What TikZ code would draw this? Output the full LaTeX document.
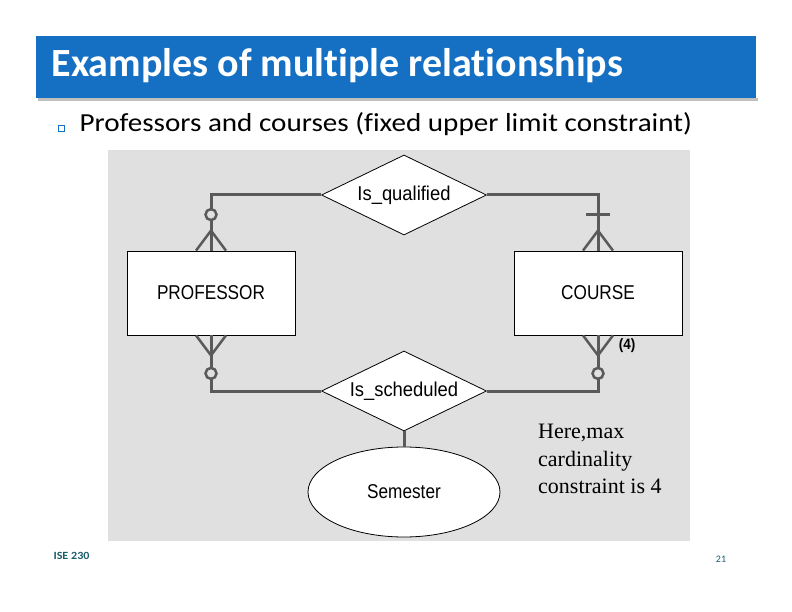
\documentclass[tikz,border=0pt]{standalone}
\usepackage{fontspec}
\setmainfont{Carlito}[Ligatures=NoCommon]
\newfontfamily\diagfont{Liberation Sans}
\newfontfamily\notefont{Liberation Serif}
\usetikzlibrary{shapes.geometric,calc}
\definecolor{barblue}{HTML}{1570C4}
\definecolor{diaggray}{HTML}{E0E0E0}
\definecolor{linkgray}{HTML}{5A5A5A}
\definecolor{footteal}{HTML}{1B5E6B}
\newcommand{\narrowtext}[2][0.86]{\scalebox{#1}[1]{#2}}
\begin{document}
\begin{tikzpicture}[x=1pt, y=-1pt,
    entity/.style={draw, thick, fill=white, minimum width=168pt, minimum height=84pt,
                   font=\diagfont\fontsize{20}{22}\selectfont},
    relation/.style={draw, thick, fill=white, diamond, aspect=2.06, inner sep=0pt,
                     minimum width=165pt, minimum height=80pt,
                     font=\diagfont\fontsize{20}{22}\selectfont},
    attrib/.style={draw, thick, fill=white, ellipse, minimum width=192pt, minimum height=90pt,
                   font=\diagfont\fontsize{20}{22}\selectfont},
    link/.style={draw=linkgray, line width=3pt},
    cardmark/.style={draw=linkgray, line width=2.5pt}]
    \useasboundingbox (0,0) rectangle (792,612);

    % title bar
    \fill[black!25] (38,98) rectangle (758,101);
    \fill[barblue] (36,36) rectangle (756,98);
    \node[anchor=west, text=white, font=\bfseries\fontsize{40}{46}\selectfont] (title) at (48,66)
        {Examples of multiple relationships};
    \draw[barblue, thin] (58,125) rectangle (64,131);
    \node[anchor=west, font=\fontsize{26}{30}\selectfont] (bullet) at (76,124)
        {\narrowtext[1.12]{Professors and courses (fixed upper limit constraint)}};

    % diagram
    \fill[diaggray] (108,150) rectangle (690,541);

    \node[relation] (qual)  at (404,195) {\narrowtext[0.92]{Is\_qualified}};
    \node[relation] (sched) at (404,391) {\narrowtext[0.92]{Is\_scheduled}};
    \node[entity]   (prof)  at (211,293) {\narrowtext{PROFESSOR}};
    \node[entity]   (crs)   at (598,293) {\narrowtext{COURSE}};
    \node[attrib]   (sem)   at (404,492) {\narrowtext{Semester}};

    \draw[link] (qual.west) -| (prof.north);
    \draw[link] (qual.east) -| (crs.north);
    \draw[link] (sched.west) -| (prof.south);
    \draw[link] (sched.east) -| (crs.south);
    \draw[link] (sched.south) -- (sem.north);

    % cardinality marks
    \draw[cardmark, fill=diaggray] ($(prof.north)+(0,-36)$) circle (5.5pt);
    \draw[cardmark] ($(prof.north)+(-15,0)$) -- ($(prof.north)+(0,-20)$) -- ($(prof.north)+(15,0)$);
    \draw[cardmark] ($(crs.north)+(-12,-36)$) -- ($(crs.north)+(12,-36)$);
    \draw[cardmark] ($(crs.north)+(-15,0)$) -- ($(crs.north)+(0,-20)$) -- ($(crs.north)+(15,0)$);
    \draw[cardmark, fill=diaggray] ($(prof.south)+(0,38)$) circle (5.5pt);
    \draw[cardmark] ($(prof.south)+(-15,0)$) -- ($(prof.south)+(0,20)$) -- ($(prof.south)+(15,0)$);
    \draw[cardmark, fill=diaggray] ($(crs.south)+(0,38)$) circle (5.5pt);
    \draw[cardmark] ($(crs.south)+(-15,0)$) -- ($(crs.south)+(0,20)$) -- ($(crs.south)+(15,0)$);
    \node[font=\diagfont\bfseries\fontsize{15}{17}\selectfont] (four) at (627,346)
        {\narrowtext[0.9]{(4)}};

    \node[anchor=north west, align=left, inner sep=0pt,
          font=\notefont\fontsize{22}{27.5}\selectfont] (note) at (538,424)
        {Here,max\\cardinality\\constraint is 4};

    % footer
    \node[anchor=west, text=footteal, font=\bfseries\fontsize{11}{13}\selectfont] (course) at (50,556)
        {\narrowtext[1.1]{ISE 230}};
    \node[text=footteal, font=\fontsize{10}{12}\selectfont] (page) at (721,559) {21};
\end{tikzpicture}
\end{document}
